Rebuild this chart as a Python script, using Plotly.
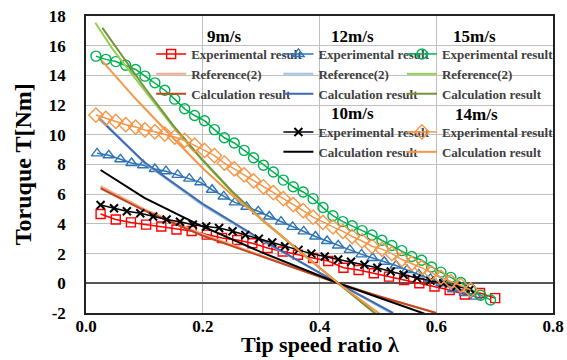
import plotly.graph_objects as go

# ---------------- data ----------------
# 9 m/s
lam_exp_9 = [0.025, 0.051, 0.077, 0.103, 0.129, 0.155, 0.181, 0.207, 0.233, 0.259, 0.285, 0.311, 0.337, 0.363,
             0.389, 0.415, 0.441, 0.467, 0.493, 0.519, 0.545, 0.571, 0.597, 0.623, 0.649, 0.675, 0.701]
T_exp_9 = [4.67, 4.3, 4.1, 3.95, 3.82, 3.62, 3.52, 3.28, 3.05, 2.92, 2.7, 2.38, 2.14, 1.92,
           1.7, 1.5, 1.05, 0.9, 0.68, 0.45, 0.22, 0.0, -0.22, -0.45, -0.75, -0.65, -1.0]
lam_ref_9 = [0.025, 0.1, 0.2, 0.3, 0.432, 0.5, 0.6]
T_ref_9 = [6.55, 5.0, 3.3, 1.88, 0.0, -0.85, -2.0]
lam_calc_9 = [0.025, 0.1, 0.2, 0.3, 0.432, 0.5, 0.6]
T_calc_9 = [6.4, 4.9, 3.2, 1.82, 0.0, -0.85, -2.0]

# 12 m/s
lam_exp_12 = [0.019, 0.039, 0.059, 0.078, 0.098, 0.118, 0.137, 0.157, 0.177, 0.196, 0.216, 0.236, 0.255, 0.275,
              0.295, 0.314, 0.334, 0.354, 0.373, 0.393, 0.413, 0.432, 0.452, 0.472, 0.491, 0.511, 0.531, 0.550,
              0.570, 0.590, 0.609, 0.629, 0.649, 0.668]
T_exp_12 = [8.75, 8.62, 8.35, 8.1, 7.95, 7.7, 7.55, 7.3, 7.05, 6.8, 6.3, 5.85, 5.45, 5.15,
            4.85, 4.5, 4.15, 3.8, 3.5, 3.15, 2.85, 2.55, 2.25, 1.95, 1.7, 1.45, 1.2, 0.9,
            0.6, 0.3, 0.0, -0.4, -0.65, -0.9]
lam_ref_12 = [0.022, 0.1, 0.2, 0.3, 0.432, 0.522]
T_ref_12 = [11.2, 8.1, 5.25, 2.9, 0.0, -2.0]
lam_calc_12 = [0.022, 0.1, 0.2, 0.3, 0.432, 0.526]
T_calc_12 = [11.1, 8.15, 5.35, 2.95, 0.0, -2.0]

# 15 m/s
lam_exp_15 = [0.017, 0.034, 0.051, 0.068, 0.085, 0.101, 0.118, 0.135, 0.152, 0.169, 0.186, 0.203, 0.220, 0.237,
              0.254, 0.271, 0.287, 0.304, 0.321, 0.338, 0.355, 0.372, 0.389, 0.406, 0.423, 0.440, 0.456, 0.473,
              0.490, 0.507, 0.524, 0.541, 0.558, 0.575, 0.592, 0.608, 0.625, 0.642, 0.659, 0.676, 0.693]
T_exp_15 = [15.3, 15.08, 14.93, 14.68, 14.4, 13.95, 13.5, 13.0, 12.4, 11.75, 11.3, 10.95, 10.35, 9.8,
            9.45, 8.95, 8.45, 7.95, 7.5, 6.95, 6.5, 6.15, 5.7, 5.1, 4.55, 4.15, 3.88, 3.55,
            3.25, 2.9, 2.55, 2.2, 1.8, 1.55, 1.1, 0.75, 0.4, 0.05, -0.4, -0.8, -1.12]
lam_ref_15 = [0.016, 0.045, 0.1, 0.15, 0.2, 0.25, 0.3, 0.35, 0.4, 0.432, 0.496]
T_ref_15 = [17.55, 15.8, 13.0, 10.5, 8.25, 6.15, 4.3, 2.7, 1.05, 0.0, -2.05]
lam_calc_15 = [0.028, 0.1, 0.15, 0.2, 0.25, 0.3, 0.35, 0.4, 0.432, 0.496]
T_calc_15 = [17.2, 13.2, 10.6, 8.3, 6.2, 4.35, 2.7, 1.05, 0.0, -2.05]

# 10 m/s
lam_exp_10 = [0.025, 0.048, 0.070, 0.093, 0.115, 0.138, 0.161, 0.183, 0.206, 0.228, 0.251, 0.273, 0.296, 0.319,
              0.341, 0.364, 0.386, 0.409, 0.432, 0.454, 0.477, 0.499, 0.522, 0.544, 0.567, 0.590, 0.612, 0.635,
              0.658]
T_exp_10 = [5.27, 5.05, 4.85, 4.72, 4.5, 4.3, 4.15, 3.95, 3.82, 3.72, 3.5, 3.25, 3.0, 2.75,
            2.5, 2.25, 2.0, 1.8, 1.6, 1.45, 1.25, 1.05, 0.8, 0.58, 0.35, 0.18, 0.0, -0.2,
            -0.4]
lam_calc_10 = [0.025, 0.1, 0.19, 0.3, 0.432, 0.5, 0.58]
T_calc_10 = [7.63, 5.75, 4.0, 2.1, 0.0, -0.95, -2.05]

# 14 m/s
lam_exp_14 = [0.017, 0.034, 0.051, 0.068, 0.085, 0.101, 0.118, 0.135, 0.152, 0.169, 0.186, 0.203, 0.220, 0.237,
              0.254, 0.271, 0.287, 0.304, 0.321, 0.338, 0.355, 0.372, 0.389, 0.406, 0.423, 0.440, 0.456, 0.473,
              0.490, 0.507, 0.524, 0.541, 0.558, 0.575, 0.592, 0.608, 0.625, 0.642, 0.659]
T_exp_14 = [11.33, 11.11, 10.9, 10.68, 10.52, 10.33, 10.2, 10.05, 9.85, 9.62, 9.3, 8.95, 8.6, 8.1,
            7.7, 7.3, 6.9, 6.5, 6.1, 5.7, 5.3, 4.9, 4.45, 4.1, 3.8, 3.5, 3.15, 2.85,
            2.5, 2.3, 2.0, 1.6, 1.35, 1.05, 0.7, 0.4, 0.12, -0.15, -0.45]
lam_calc_14 = [0.027, 0.087, 0.15, 0.2, 0.25, 0.3, 0.375, 0.432, 0.503]
T_calc_14 = [15.0, 12.34, 9.75, 7.75, 5.95, 4.35, 1.85, 0.0, -2.05]

x_ticks = [0.0, 0.2, 0.4, 0.6, 0.8]
y_ticks = [-2, 0, 2, 4, 6, 8, 10, 12, 14, 16, 18]

speed_labels = ["9m/s", "12m/s", "15m/s", "10m/s", "14m/s"]

FONT = "Liberation Serif"

fig = go.Figure()


def line(x, y, name, color, legend, width=2.0):
    fig.add_trace(go.Scatter(x=x, y=y, mode="lines", name=name, legend=legend,
                             line=dict(color=color, width=width)))


def exp(x, y, name, color, symbol, size, legend):
    if symbol == "x-thin":
        marker = dict(symbol=symbol, size=size, color=color, line=dict(width=2, color=color))
    else:
        marker = dict(symbol=symbol, size=size, color=color, line=dict(width=1.4))
    fig.add_trace(go.Scatter(x=x, y=y, mode="lines+markers", name=name, legend=legend,
                             line=dict(color=color, width=1.5), marker=marker))


# 9 m/s
exp(lam_exp_9, T_exp_9, "Experimental result", "#FF0000", "square-open", 9, "legend")
line(lam_ref_9, T_ref_9, "Reference(2)", "#F4A98A", "legend")
line(lam_calc_9, T_calc_9, "Calculation result", "#C0461E", "legend")
# 12 m/s
exp(lam_exp_12, T_exp_12, "Experimental result", "#2E75B6", "triangle-up-open", 10, "legend2")
line(lam_ref_12, T_ref_12, "Reference(2)", "#9DC3E6", "legend2")
line(lam_calc_12, T_calc_12, "Calculation result", "#3F6AAF", "legend2")
# 15 m/s
exp(lam_exp_15, T_exp_15, "Experimental result", "#00B050", "circle-open", 10, "legend3")
line(lam_ref_15, T_ref_15, "Reference(2)", "#92D050", "legend3")
line(lam_calc_15, T_calc_15, "Calculation result", "#77933C", "legend3")
# 10 m/s
exp(lam_exp_10, T_exp_10, "Experimental result", "#000000", "x-thin", 8, "legend4")
line(lam_calc_10, T_calc_10, "Calculation result", "#000000", "legend4")
# 14 m/s
exp(lam_exp_14, T_exp_14, "Experimental result", "#F79646", "diamond-open", 11, "legend5")
line(lam_calc_14, T_calc_14, "Calculation result", "#F79646", "legend5")


def legend_cfg(x, y):
    return dict(x=x, y=y, xref="paper", yref="paper", xanchor="left", yanchor="top",
                bgcolor="rgba(0,0,0,0)", borderwidth=0,
                font=dict(family=FONT, size=13, color="#404040", weight="bold"),
                tracegroupgap=0)


fig.update_layout(
    width=567, height=360,
    margin=dict(l=86, r=8, t=16, b=47),
    plot_bgcolor="white", paper_bgcolor="white",
    font=dict(family=FONT, color="black"),
    legend=legend_cfg(0.1395, 0.9226),
    legend2=legend_cfg(0.412, 0.9226),
    legend3=legend_cfg(0.6765, 0.9226),
    legend4=legend_cfg(0.412, 0.66),
    legend5=legend_cfg(0.6765, 0.66),
    showlegend=True,
)

# legend group headings (wind speeds)
label_pos = [(0.296, 0.931), (0.571, 0.931), (0.831, 0.931), (0.571, 0.672), (0.837, 0.667)]
for txt, (ax, ay) in zip(speed_labels, label_pos):
    fig.add_annotation(text=txt, x=ax, y=ay, xref="paper", yref="paper",
                       xanchor="center", yanchor="middle", showarrow=False,
                       font=dict(family=FONT, size=17, color="black", weight="bold"))

# axis titles
fig.add_annotation(text="Toruque T[Nm]", x=-0.1355, y=0.5, xref="paper", yref="paper",
                   xanchor="center", yanchor="middle", textangle=-90, showarrow=False,
                   font=dict(family=FONT, size=24, color="black", weight="bold"))
fig.add_annotation(text="Tip speed ratio λ", x=0.5, y=-0.156, xref="paper", yref="paper",
                   xanchor="center", yanchor="bottom", showarrow=False,
                   font=dict(family=FONT, size=22, color="black", weight="bold"))

fig.update_xaxes(range=[0, 0.8], tickvals=x_ticks, ticktext=[f"{v:.1f}" for v in x_ticks],
                 showgrid=True, gridcolor="#BFBFBF", gridwidth=1, zeroline=False,
                 showline=True, linecolor="#222222", linewidth=1.5, mirror=True, ticks="",
                 ticklabelstandoff=-3, automargin=False,
                 tickfont=dict(family=FONT, size=17, color="black", weight="bold"))
fig.update_yaxes(range=[-2, 18], tickvals=y_ticks, ticktext=[str(v) for v in y_ticks],
                 showgrid=True, gridcolor="#BFBFBF", gridwidth=1,
                 zeroline=True, zerolinecolor="#555555", zerolinewidth=2,
                 showline=True, linecolor="#222222", linewidth=1.5, mirror=True, ticks="",
                 ticklabelstandoff=15, automargin=False,
                 tickfont=dict(family=FONT, size=17, color="black", weight="bold"))

fig.write_html("out.html")
